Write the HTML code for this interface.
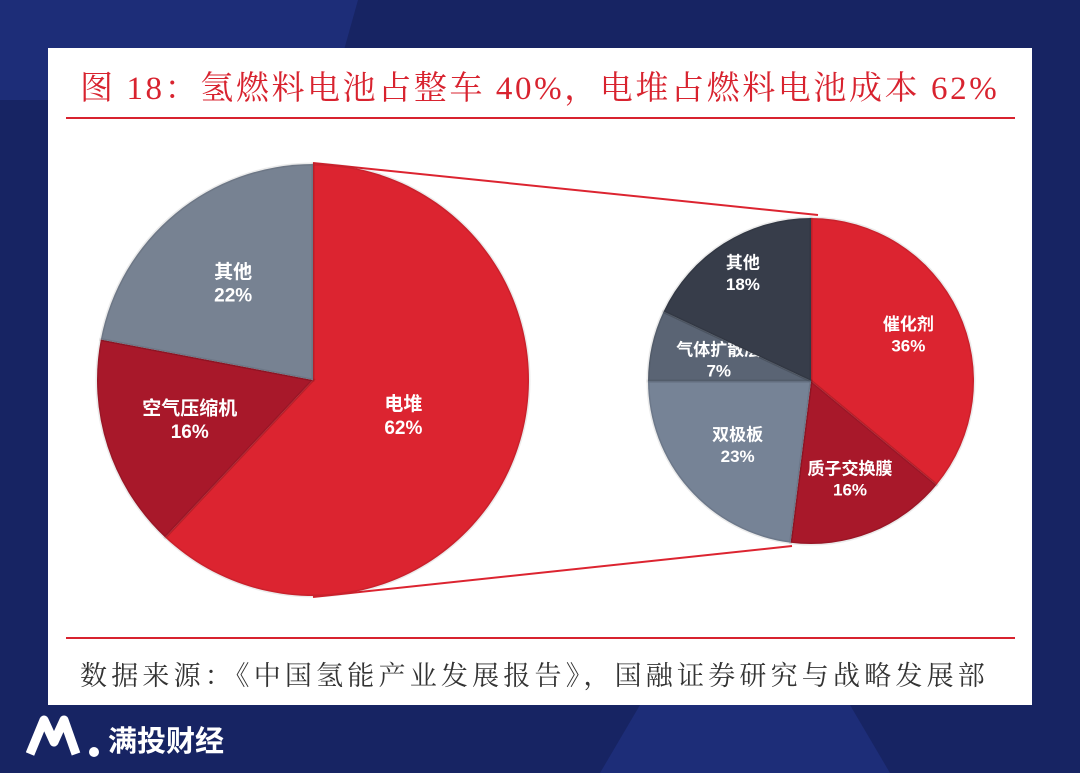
<!DOCTYPE html>
<html><head><meta charset="utf-8"><style>
body{margin:0;width:1080px;height:773px;overflow:hidden;background:#172463;font-family:"Liberation Sans","Noto Sans CJK SC",sans-serif;position:relative}
.panel{position:absolute;left:48px;top:48px;width:984px;height:657px;background:#fff}
.title{position:absolute;left:80px;top:62px;font-family:"Liberation Serif","Noto Serif CJK SC",serif;font-size:33px;color:#d8232f;white-space:nowrap;letter-spacing:2.6px}
.rule{position:absolute;left:66px;width:949px;height:2px;background:#d8232f}
.src{position:absolute;left:80px;top:654px;font-family:"Liberation Serif","Noto Serif CJK SC",serif;font-size:27px;color:#333;white-space:nowrap;letter-spacing:4.2px}
.logo{position:absolute;left:108px;top:718px;color:#fff;font-size:29px;font-weight:bold}
</style></head><body>
<svg width="1080" height="773" style="position:absolute;left:0;top:0">
<polygon points="0,0 358,0 330,100 0,100" fill="#1d2d78"/>
<polygon points="640,705 850,705 890,773 600,773" fill="#1d2d78"/>
</svg>
<div class="panel"></div>
<div class="title">图 18：氢燃料电池占整车 40%，电堆占燃料电池成本 62%</div>
<div class="rule" style="top:117px"></div>
<div class="rule" style="top:637px"></div>
<div class="src">数据来源：《中国氢能产业发展报告》，国融证券研究与战略发展部</div>
<svg id="chart" width="1080" height="773" style="position:absolute;left:0;top:0"></svg>
<svg width="80" height="50" style="position:absolute;left:26px;top:712px">
<path d="M4,42 L18,8 L28,30 L38,8 L50,42" stroke="#fff" stroke-width="9" fill="none" stroke-linejoin="round"/>
<circle cx="68" cy="40" r="5" fill="#fff"/></svg>
<div class="logo">满投财经</div>
<script>
const leftLabels=["电堆","空气压缩机","其他"];
const leftValues=[62,16,22];
const leftColors=["#dc2430","#a8182a","#778292"];
const rightLabels=["催化剂","质子交换膜","双极板","气体扩散层","其他"];
const rightValues=[36,16,23,7,18];
const rightColors=["#dc2430","#a8182a","#768396","#5a6474","#373d4a"];
const svg=document.getElementById('chart');
const NS='http://www.w3.org/2000/svg';
function pt(cx,cy,r,a){return [cx+r*Math.sin(a),cy-r*Math.cos(a)];}
function line(x1,y1,x2,y2,name){const l=document.createElementNS(NS,'line');
l.setAttribute('x1',x1);l.setAttribute('y1',y1);l.setAttribute('x2',x2);l.setAttribute('y2',y2);
l.setAttribute('stroke','#dc2430');l.setAttribute('stroke-width','2');


svg.appendChild(l);}
line(313,163,818,215,'connector-top');
line(313,597,792,546,'connector-bottom');
function pie(cx,cy,r,labels,values,colors,prefix,fs,lr){
 const tot=values.reduce((a,b)=>a+b,0);let a0=0;
 values.forEach((v,i)=>{const a1=a0+v/tot*2*Math.PI;
  const p0=pt(cx,cy,r,a0),p1=pt(cx,cy,r,a1);const large=(a1-a0)>Math.PI?1:0;
  const p=document.createElementNS(NS,'path');
  p.setAttribute('d',`M${cx},${cy} L${p0[0]},${p0[1]} A${r},${r} 0 ${large} 1 ${p1[0]},${p1[1]} Z`);
  p.setAttribute('fill',colors[i]);p.setAttribute('stroke','rgba(0,0,0,0.08)');p.setAttribute('stroke-width','3');
  
  
  svg.appendChild(p);
  const m=(a0+a1)/2;const lp=pt(cx,cy,r*lr[i],m);
  [labels[i],v+'%'].forEach((t,k)=>{const tx=document.createElementNS(NS,'text');
   tx.setAttribute('x',lp[0]);tx.setAttribute('y',lp[1]+(k?fs*0.95:-fs*0.3));
   tx.setAttribute('text-anchor','middle');tx.setAttribute('fill','#fff');tx.setAttribute('font-weight','bold');
   tx.setAttribute('font-size',fs);tx.textContent=t;
   
   
   svg.appendChild(tx);});
  a0=a1;});
}
pie(313,380,216,leftLabels,leftValues,leftColors,'left-pie',19,[0.45,0.6,0.58]);
pie(811,381,163,rightLabels,rightValues,rightColors,'right-pie',17,[0.66,0.65,0.6,0.58,0.78]);
</script>
</body></html>
